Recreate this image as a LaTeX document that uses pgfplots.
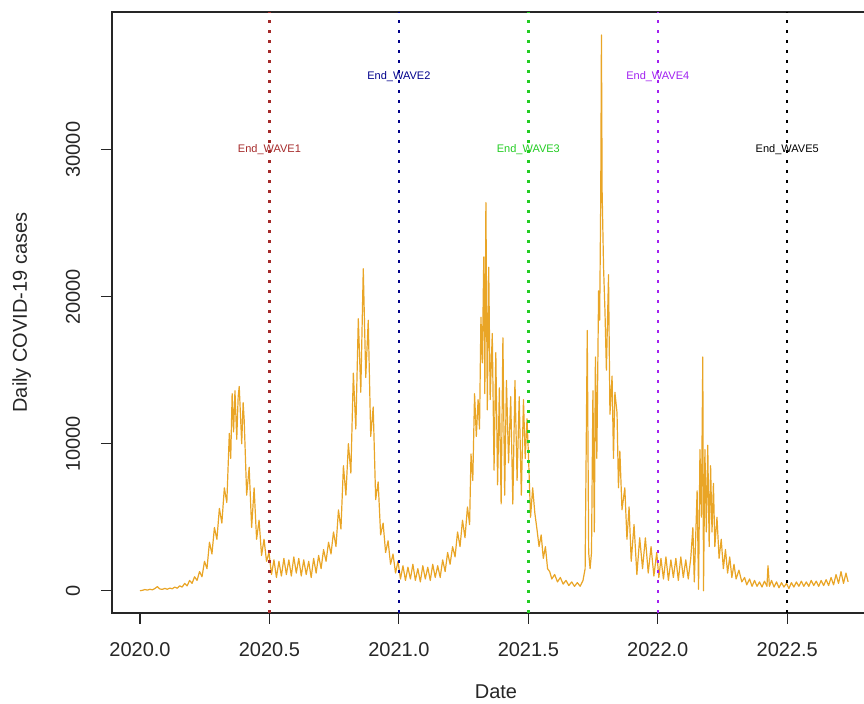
\documentclass[border=0pt]{standalone}
\usepackage{pgfplots}
\usepackage{pgfplotstable}
\pgfplotsset{compat=1.18}
\usepackage{fontspec}
\setmainfont{Liberation Sans}
\definecolor{rorange}{HTML}{E9A526}
\definecolor{waveA}{HTML}{A52A2A}
\definecolor{waveB}{HTML}{00008B}
\definecolor{waveC}{HTML}{22CC22}
\definecolor{waveD}{HTML}{A020F0}
\definecolor{waveE}{HTML}{000000}
\pgfplotstableread{
day cases
0 0
3.5 30
7 80
10.5 40
14 100
17.5 60
21 150
24.5 280
28 120
31.5 90
35 160
38.5 100
42 180
45.5 130
49 250
52.5 170
56 330
59.5 250
63 500
66.5 330
70 700
73.5 500
77 950
80.5 700
84 1300
87.5 950
91 2000
94.5 1500
98 3300
101.5 2500
105 4300
108.5 3500
112 5600
115.5 4600
119 7000
122.5 6000
126 10700
128 9000
130 13400
132 10800
134 13600
136.5 10300
138.5 13200
140 13900
143.5 10000
145.5 12800
147 11600
150.5 6500
154 8400
157.5 4300
161 7000
164.5 3500
168 4800
171.5 2400
175 3500
178.5 2000
182 2600
185.5 1100
189 2100
192.5 900
196 2000
199.5 1000
203 2200
206.5 1100
210 2100
213.5 1000
217 2300
220.5 1200
224 2200
227.5 1000
231 2100
234.5 1100
238 2000
241.5 900
245 2200
248.5 1200
252 2400
255.5 1500
259 2800
262.5 2000
266 3300
269.5 2500
273 4000
276.5 3000
280 5500
283.5 4200
287 8500
290.5 6500
294 10000
297.5 8000
301 14800
304.5 11000
308 18500
311.5 13500
315 21900
318.5 14500
322 18400
325.5 10500
329 12500
332.5 6200
336 7400
339.5 3800
343 4600
346.5 2600
350 3400
353.5 1800
357 2500
360.5 1200
364 2000
367.5 800
371 1700
374.5 700
378 1600
381.5 800
385 1800
388.5 700
392 1500
395.5 600
399 1700
402.5 800
406 1600
409.5 700
413 1800
416.5 900
420 1700
423.5 900
427 2100
430.5 1300
434 2600
437.5 1800
441 3000
444.5 2300
448 4000
451.5 3000
455 4800
458.5 3600
462 5700
465 4500
467 9300
469.5 7500
472 13400
474.5 10500
477 13000
479 11000
481 18600
483 15500
485 22700
486.5 13400
488 26400
490 12300
492 22000
494 13000
497 17500
499.5 8200
502 16200
504.5 7200
507 13800
509.5 5900
512 17200
514.5 6500
517 14300
520 8700
523 13200
526 5900
529 14300
532 7500
535 13200
538 6500
541 13000
543.5 9000
546 11700
548 9300
551 5000
554 7000
557 5300
560 4200
563 3000
566 3800
569 2200
572 3000
575 1500
578 1300
581 800
585 1100
589 600
593 900
597 450
601 700
605 350
609 600
613 300
617 550
621 300
625 700
628 1500
631 17700
633 2600
635 1500
637 2600
639 13600
641 4000
642.5 15900
644.5 9000
647 20400
648.5 18400
650 26600
651 37800
652 27100
654 22000
656 19000
658 15000
661 21500
663 12000
666 14600
668 9000
670 13500
673 12100
675 7000
677 9500
680 5500
684 7000
687 3500
690 5700
693 2000
697 4500
701 1100
705 3600
709 1500
713 3600
717 1200
721 3000
725 1000
729 2600
732 900
735 2200
738.5 800
742 2300
745.5 700
749 2100
752.5 900
756 2200
759.5 700
763 2300
766.5 900
770 2100
773.5 800
777 2200
780 4300
782 600
786 6800
788 100
790 9600
792 5000
794 15900
795 0
797 9600
799 4000
801 9900
803 3000
805 8500
807 4000
809 7300
811 3000
814 5000
817 2200
820 3500
823 1500
826 2800
829 1200
832 2300
835 900
838 1800
841 800
845 1400
849 600
853 900
856 400
860 800
863.5 300
867 700
870.5 300
874 600
877.5 250
881 650
884.5 300
886 1700
888 300
891 700
894.5 250
898 600
901.5 200
905 550
908.5 250
912 500
915.5 150
919 550
922.5 250
926 600
929.5 300
933 650
936.5 300
940 600
943.5 300
947 700
950.5 350
954 650
957.5 300
961 700
964.5 350
968 750
971.5 350
975 900
978.5 400
982 1100
985.5 500
989 1300
992.5 500
996 1200
999 600
}\casestable

\begin{document}
\begin{tikzpicture}
\begin{axis}[
  at={(0,0)}, anchor=south west,
  scale only axis, width=384pt, height=300.5pt,
  xmin=-39.5, xmax=1044, ymin=-1514, ymax=39364,
  axis line style={line width=0.6pt, black!85},
  xtick={0,182.625,365.25,547.875,730.5,913.125},
  xticklabels={2020.0,2020.5,2021.0,2021.5,2022.0,2022.5},
  ytick={0,10000,20000,30000},
  yticklabels={0,10000,20000,30000},
  scaled x ticks=false, scaled y ticks=false,
  xtick pos=left, ytick pos=left,
  tick align=outside,
  major tick length=5.5pt,
  tick style={line width=0.6pt, black!85},
  /pgf/number format/assume math mode=true,
  font=\fontsize{10}{12}\selectfont,
  xticklabel style={anchor=base, yshift=-16.5pt, text=black!85},
  yticklabel style={xshift=-10.5pt, rotate=90, anchor=base, text=black!85},
  xlabel={Date}, ylabel={Daily COVID-19 cases},
  every axis x label/.style={at={(axis description cs:0.5,-0.1420)}, anchor=base, text=black!85},
  every axis y label/.style={at={(axis description cs:-0.1107,0.5)}, rotate=90, anchor=base, text=black!85},
  clip=true,
]
\addplot[rorange, line width=0.6pt, line join=round] table[x=day, y=cases] {\casestable};
\addplot[waveA, line width=1.25pt, dash pattern=on 1.25pt off 3.75pt] coordinates {(182.625,-1514) (182.625,39364)};
\addplot[waveB, line width=1.25pt, dash pattern=on 1.25pt off 3.75pt] coordinates {(365.25,-1514) (365.25,39364)};
\addplot[waveC, line width=1.25pt, dash pattern=on 1.25pt off 3.75pt] coordinates {(547.875,-1514) (547.875,39364)};
\addplot[waveD, line width=1.25pt, dash pattern=on 1.25pt off 3.75pt] coordinates {(730.5,-1514) (730.5,39364)};
\addplot[waveE, line width=1.25pt, dash pattern=on 1.25pt off 3.75pt] coordinates {(913.125,-1514) (913.125,39364)};
\node[font=\fontsize{5.5}{6}\selectfont, text=waveA] at (axis cs:182.625,30000) {End\_WAVE1};
\node[font=\fontsize{5.5}{6}\selectfont, text=waveB] at (axis cs:365.25,35000) {End\_WAVE2};
\node[font=\fontsize{5.5}{6}\selectfont, text=waveC] at (axis cs:547.875,30000) {End\_WAVE3};
\node[font=\fontsize{5.5}{6}\selectfont, text=waveD] at (axis cs:730.5,35000) {End\_WAVE4};
\node[font=\fontsize{5.5}{6}\selectfont, text=waveE] at (axis cs:913.125,30000) {End\_WAVE5};
\end{axis}
\pgfresetboundingbox
\path (-56pt,-45.5pt) rectangle (376pt,306.5pt);
\end{tikzpicture}
\end{document}
